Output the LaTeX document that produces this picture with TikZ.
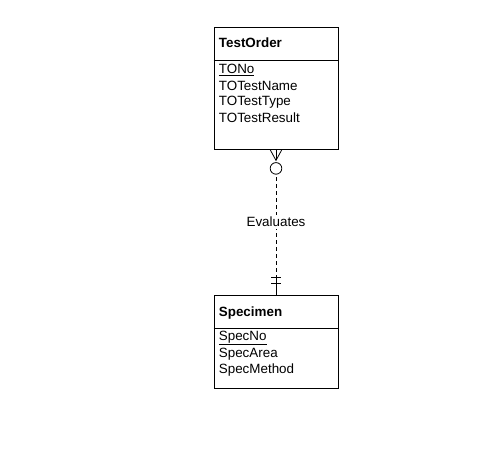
\documentclass[tikz,border=0pt]{standalone}
\usepackage{fontspec}
\setmainfont{Liberation Sans}
\usetikzlibrary{calc}
\begin{document}
\begin{tikzpicture}[x=1pt,y=-1pt,line width=0.8pt,
  entity/.style={draw,rectangle,minimum width=124pt,inner sep=0pt},
  attr/.style={anchor=west,inner sep=0pt,font=\fontsize{13.4}{16}\selectfont},
  head/.style={anchor=west,inner sep=0pt,font=\fontsize{13.4}{16}\selectfont\bfseries},
  rel/.style={dash pattern=on 4pt off 3pt}]
\useasboundingbox (0,0) rectangle (492,450);
% TestOrder
\node[entity,minimum height=122pt] (to) at (276,88) {};
\draw (to.west |- 0,60) coordinate (todl) -- (to.east |- 0,60) coordinate (todr);
\node[head] (toh) at (218.5,43) {TestOrder};
\node[attr] (ta1) at (218.5,70) {\underline{TONo}};
\node[attr] (ta2) at (218.5,86) {TOTestName};
\node[attr] (ta3) at (218.5,102) {TOTestType};
\node[attr] (ta4) at (218.5,118) {TOTestResult};
% Specimen
\node[entity,minimum height=93pt] (sp) at (276,341.5) {};
\draw (sp.west |- 0,328) coordinate (spdl) -- (sp.east |- 0,328) coordinate (spdr);
\node[head] (sph) at (218.5,313) {Specimen};
\node[attr] (sa1) at (218.5,338) {\underline{SpecNo}};
\node[attr] (sa2) at (218.5,354) {SpecArea};
\node[attr] (sa3) at (218.5,370) {SpecMethod};
% relationship
\coordinate (circ) at ($(to.south)+(0,19)$);
\draw[rel] (to.south) -- (sp.north) node[pos=0.5,fill=white,inner sep=2pt,font=\fontsize{13.4}{16}\selectfont] (lab) {Evaluates};
\draw (to.south) -- ++(0,8);
\draw ($(to.south)+(-6,0)$) -- ($(to.south)+(0,11)$) -- ($(to.south)+(6,0)$);
\draw[fill=white] (circ) circle (5.8pt);
\draw ($(sp.north)+(-5,-17)$) -- ($(sp.north)+(5,-17)$);
\draw ($(sp.north)+(-5,-11)$) -- ($(sp.north)+(5,-11)$);
\draw (sp.north) -- ++(0,-17);
\end{tikzpicture}
\end{document}
